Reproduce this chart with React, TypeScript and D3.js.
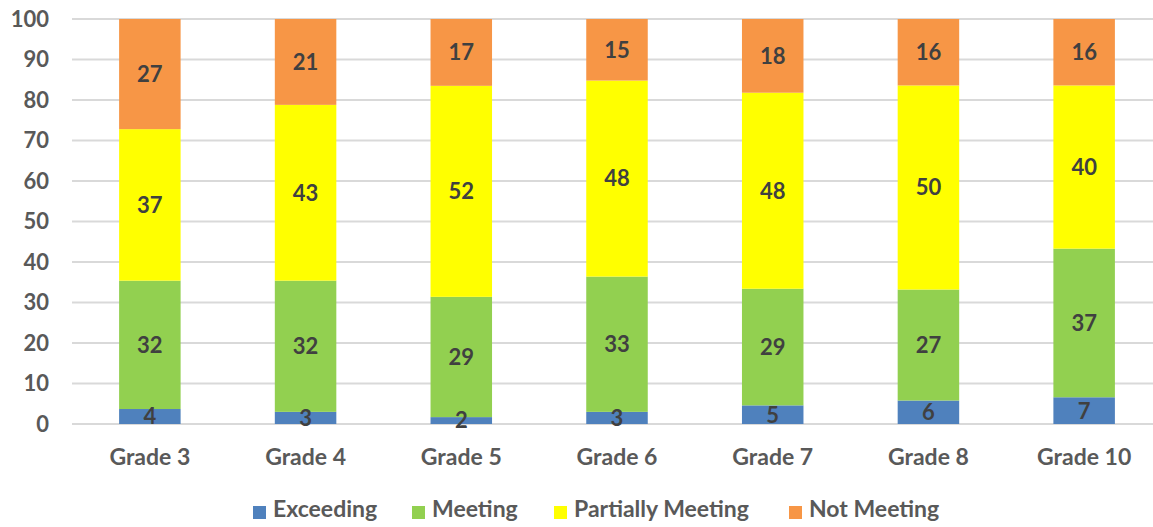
import React from "react";
import * as d3 from "d3";

const categories = ["Grade 3", "Grade 4", "Grade 5", "Grade 6", "Grade 7", "Grade 8", "Grade 10"];
const seriesNames = ["Exceeding", "Meeting", "Partially Meeting", "Not Meeting"];
const seriesColors = ["#4F81BD", "#92D050", "#FFFF00", "#F79646"];
const exceeding = [3.7, 3.0, 1.7, 3.0, 4.6, 5.8, 6.6];
const meeting = [31.7, 32.4, 29.7, 33.4, 28.8, 27.4, 36.7];
const partiallyMeeting = [37.4, 43.4, 52.1, 48.4, 48.4, 50.4, 40.3];
const notMeeting = [27.2, 21.2, 16.5, 15.2, 18.2, 16.4, 16.4];
const exceedingLabels = [4, 3, 2, 3, 5, 6, 7];
const meetingLabels = [32, 32, 29, 33, 29, 27, 37];
const partialLabels = [37, 43, 52, 48, 48, 50, 40];
const notMeetingLabels = [27, 21, 17, 15, 18, 16, 16];
const yTicks = [0, 10, 20, 30, 40, 50, 60, 70, 80, 90, 100];

const W = 1153;
const H = 527;
const FONT = "Lato, 'Open Sans', sans-serif";

export default function App() {
  const x = d3.scaleBand<string>().domain(categories).range([72, 1162]).paddingInner(0.605).paddingOuter(0.3025);
  const y = d3.scaleLinear().domain([0, 100]).range([424, 19]);
  const seriesValues = [exceeding, meeting, partiallyMeeting, notMeeting];
  const seriesLabels = [exceedingLabels, meetingLabels, partialLabels, notMeetingLabels];
  const rows = categories.map((c, i) => {
    const r: any = { cat: c };
    seriesNames.forEach((s, k) => (r[s] = seriesValues[k][i]));
    return r;
  });
  const stacked = d3.stack<any>().keys(seriesNames)(rows);

  const legendX = [253, 412, 554, 789];

  return (
    <svg
      width={W}
      height={H}
      style={{ display: "block", background: "#fff", position: "absolute", top: 0, left: 0 }}
    >
      {yTicks.map((t) => (
        <g key={t}>
          <line x1={72} x2={W} y1={y(t)} y2={y(t)} stroke="#D9D9D9" strokeWidth={1.8} />
          <text x={49} y={y(t)} dy="0.36em" textAnchor="end" fontFamily={FONT} fontWeight="bold" fontSize={22} fill="#595959">
            {t}
          </text>
        </g>
      ))}
      {stacked.map((layer, k) => (
        <g key={layer.key}>
          {layer.map((d, i) => (
            <rect
              key={i}
              x={x(categories[i])!}
              width={x.bandwidth()}
              y={y(d[1])}
              height={y(d[0]) - y(d[1])}
              fill={seriesColors[k]}
            />
          ))}
        </g>
      ))}
      {stacked.map((layer, k) => (
        <g key={"l" + layer.key}>
          {layer.map((d, i) => (
            <text
              key={i}
              x={x(categories[i])! + x.bandwidth() / 2}
              y={(y(d[0]) + y(d[1])) / 2}
              dy="0.36em"
              textAnchor="middle"
              fontFamily={FONT}
              fontWeight="bold"
              fontSize={22}
              fill="#404040"
            >
              {seriesLabels[k][i]}
            </text>
          ))}
        </g>
      ))}
      {categories.map((c) => (
        <text key={c} x={x(c)! + x.bandwidth() / 2} y={465} textAnchor="middle" fontFamily={FONT} fontWeight="bold" fontSize={23} fill="#595959">
          {c}
        </text>
      ))}
      {seriesNames.map((s, k) => (
        <g key={s}>
          <rect x={legendX[k]} y={506} width={13} height={13} fill={seriesColors[k]} />
          <text x={legendX[k] + 20} y={517} fontFamily={FONT} fontWeight="bold" fontSize={23} fill="#595959">
            {s}
          </text>
        </g>
      ))}
    </svg>
  );
}
